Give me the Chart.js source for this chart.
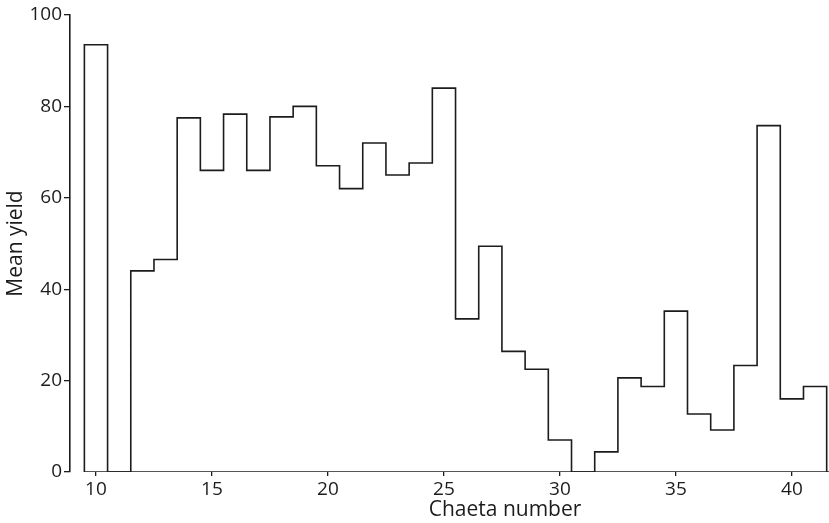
<!DOCTYPE html>
<html>
<head>
<meta charset="utf-8">
<script src="https://cdn.jsdelivr.net/npm/chart.js@4.4.0/dist/chart.umd.min.js"></script>
<style>
  html, body { margin: 0; padding: 0; background: #fff; }
  #wrap { width: 829px; height: 523px; position: relative; }
</style>
</head>
<body>
<div id="wrap"><canvas id="c"></canvas></div>
<script>
// Chaeta numbers (categories) and mean yield per chaeta number
const chaetaNumbers = [10, 11, 12, 13, 14, 15, 16, 17, 18, 19, 20, 21, 22, 23, 24, 25,
                       26, 27, 28, 29, 30, 31, 32, 33, 34, 35, 36, 37, 38, 39, 40, 41];
const meanYield = [93.5, 0, 44, 46.5, 77.5, 66, 78.3, 66, 77.7, 80, 67, 62, 72, 65, 67.6, 84,
                   33.5, 49.4, 26.4, 22.5, 7, 0, 4.4, 20.6, 18.7, 35.2, 12.7, 9.2, 23.3, 75.8, 16, 18.7];
const xTickValues = [10, 15, 20, 25, 30, 35, 40];
const yTickValues = [0, 20, 40, 60, 80, 100];
const xTitle = 'Chaeta number';
const yTitle = 'Mean yield';

// Histogram outline (step-before) built from the arrays: each bin spans c-0.5 .. c+0.5
const outline = [{ x: chaetaNumbers[0] - 0.5, y: 0 }];
chaetaNumbers.forEach((c, i) => outline.push({ x: c - 0.5, y: meanYield[i] }));
outline.push({ x: chaetaNumbers[chaetaNumbers.length - 1] + 0.5, y: 0 });

const X_MIN = 8.88, X_MAX = 41.6;
const baseline = [{ x: chaetaNumbers[0] - 0.5, y: 0 }, { x: X_MAX, y: 0 }];

const INK = '#1c1c1c';
const FONT = "'Open Sans', 'DejaVu Sans', sans-serif";

const xTitlePlugin = {
  id: 'xTitlePlugin',
  afterDraw(chart) {
    const ctx = chart.ctx;
    ctx.save();
    ctx.fillStyle = INK;
    ctx.font = "21px " + FONT;
    ctx.textAlign = 'center';
    ctx.textBaseline = 'middle';
    ctx.fillText(xTitle, 505, 510);
    ctx.restore();
  }
};

new Chart(document.getElementById('c'), {
  type: 'line',
  data: {
    datasets: [
      { data: outline, stepped: 'before', borderColor: INK, borderWidth: 1.6, pointRadius: 0, fill: false, tension: 0 },
      { data: baseline, borderColor: INK, borderWidth: 1.6, pointRadius: 0, fill: false }
    ]
  },
  options: {
    responsive: true,
    maintainAspectRatio: false,
    animation: false,
    events: [],
    layout: { padding: { top: 15, right: 0, bottom: 0, left: 0 } },
    plugins: { legend: { display: false }, tooltip: { enabled: false }, title: { display: false } },
    scales: {
      x: {
        type: 'linear',
        min: X_MIN,
        max: X_MAX,
        afterBuildTicks: (scale) => { scale.ticks = xTickValues.map(v => ({ value: v })); },
        afterFit: (scale) => { scale.height = 51; },
        border: { display: false },
        grid: { drawOnChartArea: false, drawTicks: true, tickLength: 4, color: INK, lineWidth: 1.3 },
        ticks: { color: INK, font: { family: FONT, size: 19, lineHeight: 1 }, padding: 4, maxRotation: 0, autoSkip: false },
        title: { display: false }
      },
      y: {
        min: 0,
        max: 100,
        afterBuildTicks: (scale) => { scale.ticks = yTickValues.map(v => ({ value: v })); },
        afterFit: (scale) => { scale.width = 70; },
        border: { display: true, color: INK, width: 1.6 },
        grid: { drawOnChartArea: false, drawTicks: true, tickLength: 6, color: INK, lineWidth: 1.3 },
        ticks: { color: INK, font: { family: FONT, size: 19, lineHeight: 1 }, padding: 2 },
        title: { display: true, text: yTitle, color: INK, font: { family: FONT, size: 21, lineHeight: 1 }, padding: { top: 6, bottom: 0 } }
      }
    }
  },
  plugins: [xTitlePlugin]
});
</script>
</body>
</html>
